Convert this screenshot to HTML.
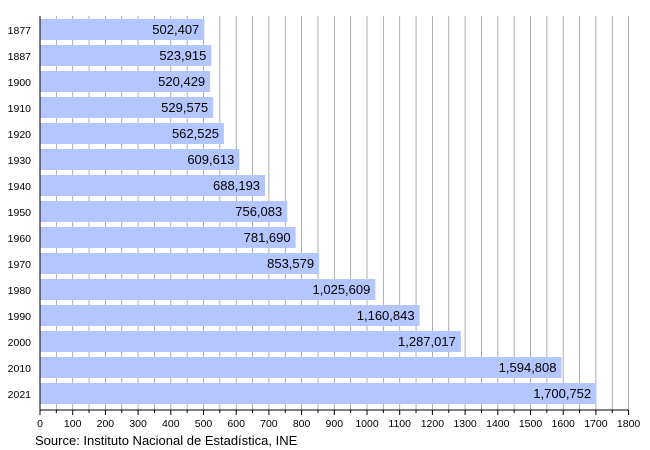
<!DOCTYPE html><html><head><style>body{margin:0;background:#fff}svg{display:block}text{font-family:"Liberation Sans",sans-serif}</style></head><body>
<svg width="650" height="450" xmlns="http://www.w3.org/2000/svg">
<g id="g"></g>
</svg>
<script>
const data=[["1877",502407],["1887",523915],["1900",520429],["1910",529575],["1920",562525],["1930",609613],["1940",688193],["1950",756083],["1960",781690],["1970",853579],["1980",1025609],["1990",1160843],["2000",1287017],["2010",1594808],["2021",1700752]];
const x0=40,k=588.6/1800;let s='';
for(let v=50;v<=1800;v+=50){const x=x0+v*k;s+=`<line x1="${x}" y1="16" x2="${x}" y2="410" stroke="#999" stroke-width="0.8"/>`;}
data.forEach((d,i)=>{const y=19+i*26;const w=d[1]/1000*k;s+=`<rect x="${x0}" y="${y}" width="${w}" height="21" fill="#b3c6ff"/>`;
s+=`<text x="${x0+w-5}" y="${y+15}" font-size="13" text-anchor="end">${d[1].toLocaleString('en-US')}</text>`;
s+=`<text x="31" y="${y+15}" font-size="10.5" text-anchor="end">${d[0]}</text>`;});
s+=`<line x1="${x0}" y1="16" x2="${x0}" y2="410" stroke="#000"/><line x1="${x0}" y1="410" x2="${x0+1800*k}" y2="410" stroke="#000"/>`;
for(let v=0;v<=1800;v+=50){const x=x0+v*k;s+=`<line x1="${x}" y1="410" x2="${x}" y2="${v%100?413:415}" stroke="#000"/>`;if(v%100==0)s+=`<text x="${x}" y="427" font-size="10.5" text-anchor="middle">${v}</text>`;}
s+=`<text x="35" y="445" font-size="13">Source: Instituto Nacional de Estadística, INE</text>`;
document.getElementById('g').innerHTML=s;
</script>
</body></html>
